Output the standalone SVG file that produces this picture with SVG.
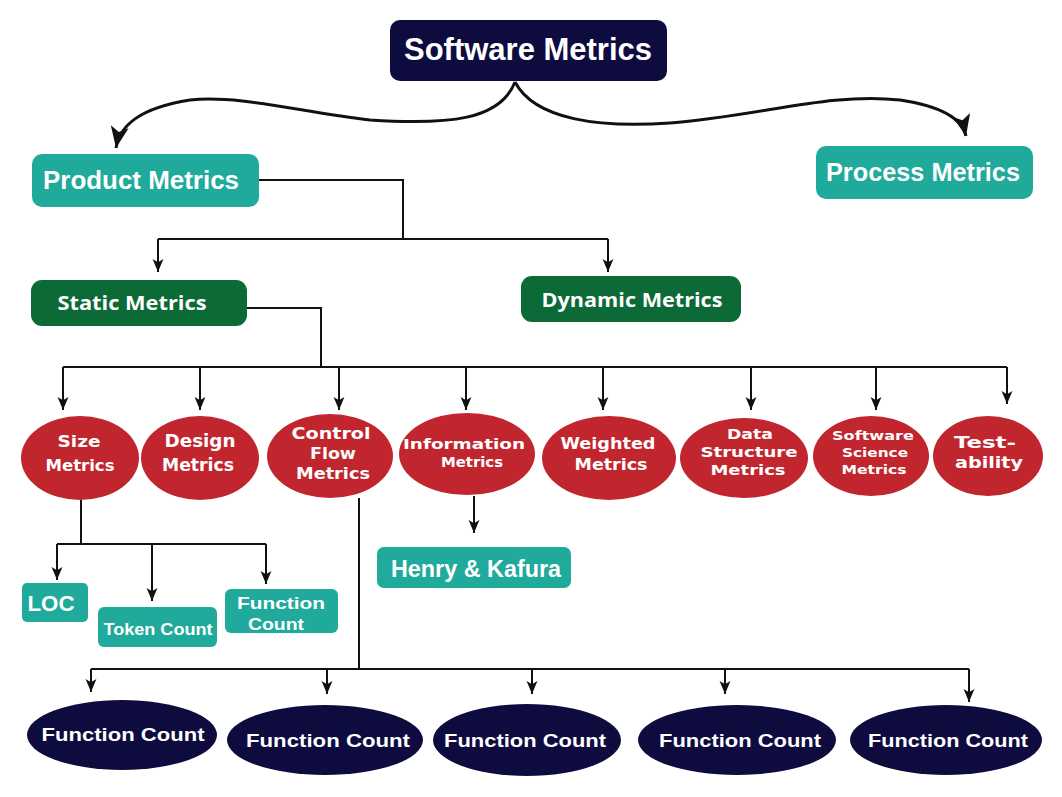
<svg xmlns="http://www.w3.org/2000/svg" width="1062" height="797" viewBox="0 0 1062 797">
<style>
.bg{fill:#ffffff}
.navy{fill:#0e0c3f}
.teal{fill:#1faa9c}
.green{fill:#0b6a36}
.red{fill:#c1262e}
.bt{fill:#ffffff;font-family:"Liberation Sans Narrow","Liberation Sans",Arial,sans-serif;font-weight:bold;text-anchor:middle}
.et{fill:#ffffff;font-family:"DejaVu Sans","Verdana",sans-serif;font-weight:bold;text-anchor:middle}
.ln{fill:none;stroke:#111111;stroke-width:2}
.cv{fill:none;stroke:#111111;stroke-width:3}
</style>
<defs>
<marker id="ah" viewBox="0 0 10 10" refX="10" refY="5" markerWidth="6" markerHeight="6" markerUnits="userSpaceOnUse" orient="auto">
<path d="M0,0 L10,5 L0,10 L3,5 Z" fill="#111111"/>
</marker>
<marker id="ahs" viewBox="0 0 12 10" refX="12" refY="5" markerWidth="13" markerHeight="12" markerUnits="userSpaceOnUse" orient="auto">
<path d="M0,0 L12,5 L0,10 L3,5 Z" fill="#111111"/>
</marker>
<marker id="big" viewBox="0 0 12 10" refX="12" refY="5" markerWidth="22" markerHeight="18" markerUnits="userSpaceOnUse" orient="auto">
<path d="M0,0 L12,5 L0,10 L3,5 Z" fill="#111111"/>
</marker>
</defs>
<rect class="bg" x="0" y="0" width="1062" height="797"/>

<g id="connectors">
<path class="cv" d="M515,82 C500,120 450,125 370,120 C300,112 240,95 190,100 C140,108 120,125 116,148" marker-end="url(#big)"/>
<path class="cv" d="M515,82 C535,120 600,128 670,123 C760,116 830,92 900,100 C940,106 962,118 966,136" marker-end="url(#big)"/>
<path class="ln" d="M259,180 H403 V239"/>
<path class="ln" d="M158,239 H608"/>
<path class="ln" d="M158,239 V272" marker-end="url(#ahs)"/>
<path class="ln" d="M608,239 V272" marker-end="url(#ahs)"/>
<path class="ln" d="M247,308 H321 V367"/>
<path class="ln" d="M63,367 H1007"/>
<path class="ln" d="M63,367 V410" marker-end="url(#ahs)"/>
<path class="ln" d="M200,367 V410" marker-end="url(#ahs)"/>
<path class="ln" d="M339,367 V410" marker-end="url(#ahs)"/>
<path class="ln" d="M466,367 V410" marker-end="url(#ahs)"/>
<path class="ln" d="M603,367 V410" marker-end="url(#ahs)"/>
<path class="ln" d="M751,367 V410" marker-end="url(#ahs)"/>
<path class="ln" d="M876,367 V410" marker-end="url(#ahs)"/>
<path class="ln" d="M1007,367 V404" marker-end="url(#ahs)"/>
<path class="ln" d="M81,500 V544 M57,544 H266"/>
<path class="ln" d="M57,544 V580" marker-end="url(#ahs)"/>
<path class="ln" d="M152,544 V601" marker-end="url(#ahs)"/>
<path class="ln" d="M266,544 V584" marker-end="url(#ahs)"/>
<path class="ln" d="M474,496 V533" marker-end="url(#ahs)"/>
<path class="ln" d="M359,498 V669 M91,669 H969"/>
<path class="ln" d="M91,669 V692" marker-end="url(#ahs)"/>
<path class="ln" d="M327,669 V694" marker-end="url(#ahs)"/>
<path class="ln" d="M532,669 V694" marker-end="url(#ahs)"/>
<path class="ln" d="M725,669 V694" marker-end="url(#ahs)"/>
<path class="ln" d="M969,669 V702" marker-end="url(#ahs)"/>
</g>

<g id="software-metrics">
<rect class="navy" x="390" y="20" width="277" height="61" rx="10"/>
<text class="bt" x="528" y="60" font-size="31" textLength="248" lengthAdjust="spacingAndGlyphs">Software Metrics</text>
</g>
<g id="product-metrics">
<rect class="teal" x="32" y="154" width="227" height="53" rx="10"/>
<text class="bt" x="141" y="189" font-size="25" textLength="196" lengthAdjust="spacingAndGlyphs">Product Metrics</text>
</g>
<g id="process-metrics">
<rect class="teal" x="816" y="146" width="217" height="53" rx="10"/>
<text class="bt" x="923" y="181" font-size="26" textLength="194" lengthAdjust="spacingAndGlyphs">Process Metrics</text>
</g>
<g id="static-metrics">
<rect class="green" x="31" y="280" width="216" height="46" rx="11"/>
<text class="bt" x="132" y="310" font-size="20" textLength="149" lengthAdjust="spacingAndGlyphs" style="font-family:'Open Sans','Liberation Sans',sans-serif">Static Metrics</text>
</g>
<g id="dynamic-metrics">
<rect class="green" x="521" y="276" width="220" height="46" rx="11"/>
<text class="bt" x="632" y="307" font-size="20" textLength="181" lengthAdjust="spacingAndGlyphs" style="font-family:'Open Sans','Liberation Sans',sans-serif">Dynamic Metrics</text>
</g>

<g id="size-metrics">
<ellipse class="red" cx="80" cy="458" rx="59" ry="42"/>
<text class="et" x="79" y="447" font-size="16" textLength="43" lengthAdjust="spacingAndGlyphs">Size</text>
<text class="et" x="80" y="471" font-size="16" textLength="69" lengthAdjust="spacingAndGlyphs">Metrics</text>
</g>
<g id="design-metrics">
<ellipse class="red" cx="200" cy="458" rx="59" ry="42"/>
<text class="et" x="200" y="447" font-size="17" textLength="71" lengthAdjust="spacingAndGlyphs">Design</text>
<text class="et" x="198" y="471" font-size="17" textLength="72" lengthAdjust="spacingAndGlyphs">Metrics</text>
</g>
<g id="control-flow-metrics">
<ellipse class="red" cx="330" cy="456" rx="63" ry="42"/>
<text class="et" x="331" y="439" font-size="15" textLength="79" lengthAdjust="spacingAndGlyphs">Control</text>
<text class="et" x="333" y="459" font-size="15" textLength="46" lengthAdjust="spacingAndGlyphs">Flow</text>
<text class="et" x="333" y="479" font-size="15" textLength="74" lengthAdjust="spacingAndGlyphs">Metrics</text>
</g>
<g id="information-metrics">
<ellipse class="red" cx="467" cy="454" rx="68" ry="41"/>
<text class="et" x="464" y="449" font-size="13.5" textLength="122" lengthAdjust="spacingAndGlyphs">Information</text>
<text class="et" x="472" y="467" font-size="13.5" textLength="62" lengthAdjust="spacingAndGlyphs">Metrics</text>
</g>
<g id="weighted-metrics">
<ellipse class="red" cx="609" cy="458" rx="67" ry="42"/>
<text class="et" x="608" y="449" font-size="16" textLength="95" lengthAdjust="spacingAndGlyphs">Weighted</text>
<text class="et" x="611" y="470" font-size="16" textLength="73" lengthAdjust="spacingAndGlyphs">Metrics</text>
</g>
<g id="data-structure-metrics">
<ellipse class="red" cx="744" cy="458" rx="64" ry="40"/>
<text class="et" x="750" y="439" font-size="14" textLength="46" lengthAdjust="spacingAndGlyphs">Data</text>
<text class="et" x="749" y="457" font-size="14" textLength="97" lengthAdjust="spacingAndGlyphs">Structure</text>
<text class="et" x="748" y="475" font-size="14" textLength="75" lengthAdjust="spacingAndGlyphs">Metrics</text>
</g>
<g id="software-science-metrics">
<ellipse class="red" cx="871" cy="456" rx="58" ry="40"/>
<text class="et" x="873" y="440" font-size="13" textLength="82" lengthAdjust="spacingAndGlyphs">Software</text>
<text class="et" x="875" y="457" font-size="13" textLength="66" lengthAdjust="spacingAndGlyphs">Science</text>
<text class="et" x="874" y="474" font-size="13" textLength="65" lengthAdjust="spacingAndGlyphs">Metrics</text>
</g>
<g id="testability">
<ellipse class="red" cx="988" cy="456" rx="55" ry="40"/>
<text class="et" x="985" y="448" font-size="16" textLength="62" lengthAdjust="spacingAndGlyphs">Test-</text>
<text class="et" x="989" y="468" font-size="16" textLength="68" lengthAdjust="spacingAndGlyphs">ability</text>
</g>

<g id="loc">
<rect class="teal" x="22" y="583" width="66" height="39" rx="5"/>
<text class="bt" x="51" y="611" font-size="22" textLength="47" lengthAdjust="spacingAndGlyphs">LOC</text>
</g>
<g id="token-count">
<rect class="teal" x="98" y="607" width="119" height="40" rx="6"/>
<text class="bt" x="158" y="635" font-size="17" textLength="109" lengthAdjust="spacingAndGlyphs">Token Count</text>
</g>
<g id="function-count-size">
<rect class="teal" x="225" y="589" width="113" height="44" rx="6"/>
<text class="bt" x="281" y="609" font-size="17" textLength="88" lengthAdjust="spacingAndGlyphs">Function</text>
<text class="bt" x="276" y="630" font-size="17" textLength="56" lengthAdjust="spacingAndGlyphs">Count</text>
</g>
<g id="henry-kafura">
<rect class="teal" x="377" y="547" width="194" height="41" rx="7"/>
<text class="bt" x="476" y="577" font-size="23" textLength="170" lengthAdjust="spacingAndGlyphs">Henry &amp; Kafura</text>
</g>

<g id="function-count-1">
<ellipse class="navy" cx="122" cy="735" rx="95" ry="35"/>
<text class="bt" x="123" y="741" font-size="19" textLength="163" lengthAdjust="spacingAndGlyphs">Function Count</text>
</g>
<g id="function-count-2">
<ellipse class="navy" cx="325" cy="740" rx="98" ry="35"/>
<text class="bt" x="328" y="747" font-size="19" textLength="164" lengthAdjust="spacingAndGlyphs">Function Count</text>
</g>
<g id="function-count-3">
<ellipse class="navy" cx="527" cy="740" rx="94" ry="36"/>
<text class="bt" x="525" y="747" font-size="19" textLength="162" lengthAdjust="spacingAndGlyphs">Function Count</text>
</g>
<g id="function-count-4">
<ellipse class="navy" cx="737" cy="740" rx="99" ry="35"/>
<text class="bt" x="740" y="747" font-size="19" textLength="162" lengthAdjust="spacingAndGlyphs">Function Count</text>
</g>
<g id="function-count-5">
<ellipse class="navy" cx="946" cy="740" rx="96" ry="35"/>
<text class="bt" x="948" y="747" font-size="19" textLength="160" lengthAdjust="spacingAndGlyphs">Function Count</text>
</g>
</svg>
